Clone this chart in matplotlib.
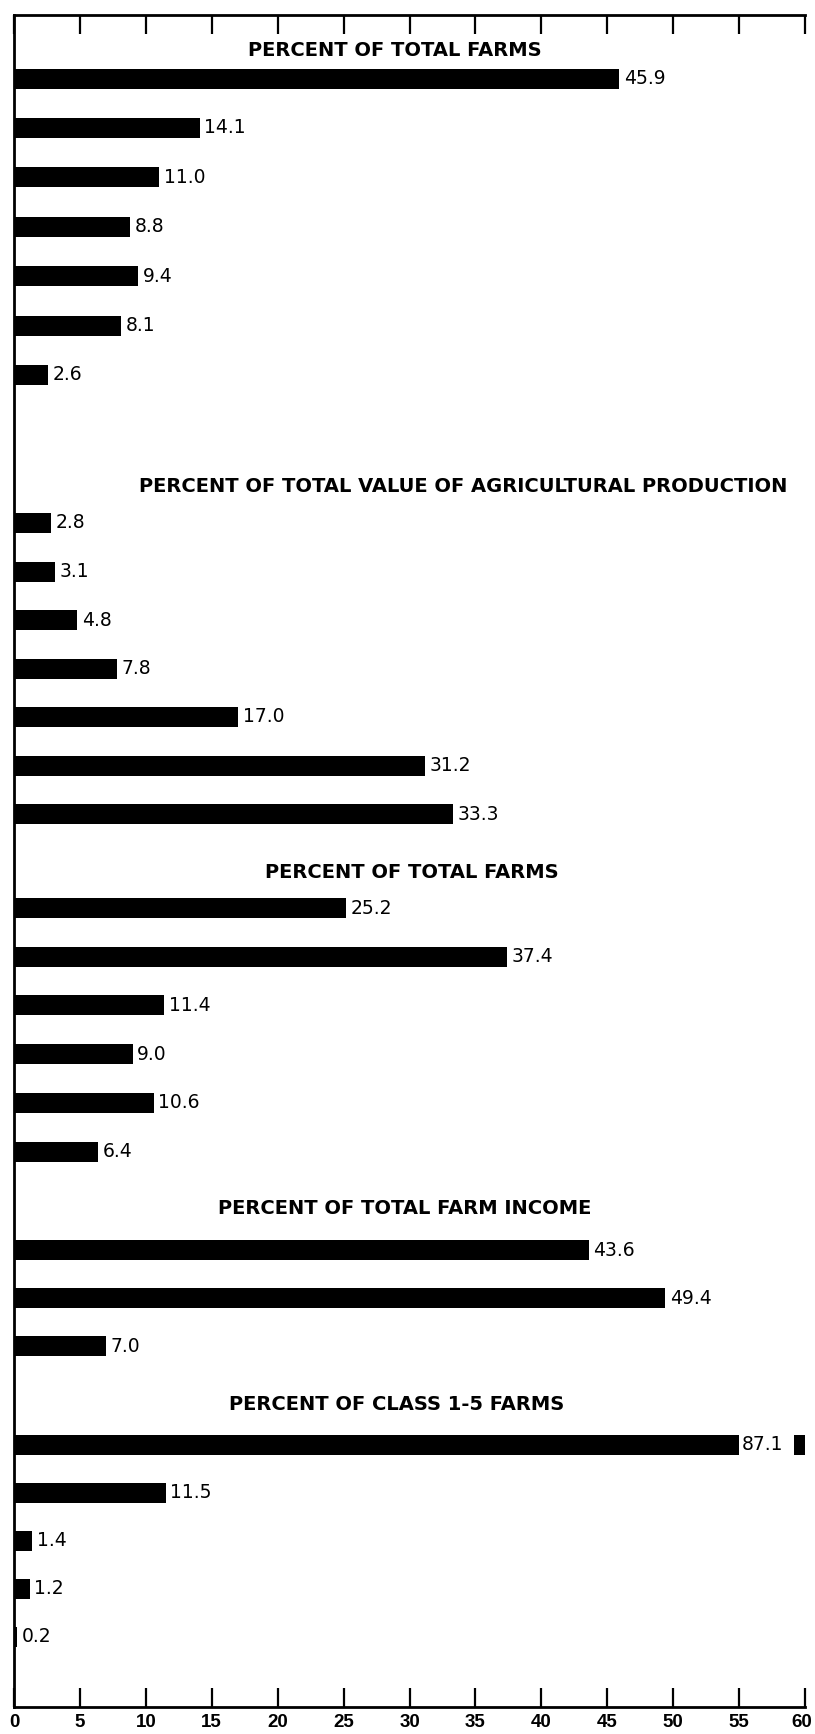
import numpy as np
import matplotlib.pyplot as plt
from matplotlib.transforms import ScaledTranslation

# Data
group_titles = [
    "PERCENT OF TOTAL FARMS",
    "PERCENT OF TOTAL VALUE OF AGRICULTURAL PRODUCTION",
    "PERCENT OF TOTAL FARMS",
    "PERCENT OF TOTAL FARM INCOME",
    "PERCENT OF CLASS 1-5 FARMS",
]
farms_pct = [45.9, 14.1, 11.0, 8.8, 9.4, 8.1, 2.6]
production_pct = [2.8, 3.1, 4.8, 7.8, 17.0, 31.2, 33.3]
farms2_pct = [25.2, 37.4, 11.4, 9.0, 10.6, 6.4]
income_pct = [43.6, 49.4, 7.0]
class_pct = [87.1, 11.5, 1.4, 1.2, 0.2]
groups = [farms_pct, production_pct, farms2_pct, income_pct, class_pct]
x_ticks = list(range(0, 65, 5))

# layout (vertical units = pixels from top of axes)
first_bar = [63.5, 508, 893, 1235, 1430]
pitch = [49.4, 48.5, 48.7, 48.1, 47.9]
title_gap = [28.5, 36, 36, 41, 41]
title_x = [28.9, 34.1, 30.2, 29.6, 29.0]
bar_h = 20
xmax = 60

fig = plt.figure(figsize=(8.15, 17.34), dpi=100)
ax = fig.add_axes([14 / 815, 1 - 1707 / 1734, 791 / 815, 1692 / 1734])
ax.set_xlim(0, xmax)
ax.set_ylim(1692, 0)

for g, vals in enumerate(groups):
    ys = first_bar[g] + pitch[g] * np.arange(len(vals))
    ax.text(title_x[g], first_bar[g] - title_gap[g], group_titles[g],
            ha="center", va="center", fontsize=14, fontweight="bold",
            family="DejaVu Sans")
    for v, y in zip(vals, ys):
        if v > xmax:
            # broken bar: run to 55, label, then a stub at the edge
            ax.barh(y, 55, height=bar_h, color="black", left=0)
            ax.barh(y, 0.85, height=bar_h, color="black", left=xmax - 0.85)
            ax.text(55 + 0.2, y, f"{v:.1f}", va="center", ha="left",
                    fontsize=13.5, family="DejaVu Sans")
        else:
            ax.barh(y, v, height=bar_h, color="black", left=0)
            ax.text(v + 0.35, y, f"{v:.1f}", va="center", ha="left",
                    fontsize=13.5, family="DejaVu Sans")

ax.spines["right"].set_visible(False)
for s in ["left", "top", "bottom"]:
    ax.spines[s].set_linewidth(2)

ax.set_xticks(x_ticks)
ax.set_xticklabels([str(t) for t in x_ticks], fontsize=13.5, fontweight="bold",
                   family="Liberation Sans")
ax.tick_params(axis="x", direction="in", length=14, width=1.6, pad=5,
               top=True, bottom=True, labeltop=False)
ax.set_yticks([])

# keep the last tick label inside the figure
last = ax.get_xticklabels()[-1]
last.set_transform(last.get_transform()
                   + ScaledTranslation(-3 / 100, 0, fig.dpi_scale_trans))

fig.savefig("out.png", dpi=100)
